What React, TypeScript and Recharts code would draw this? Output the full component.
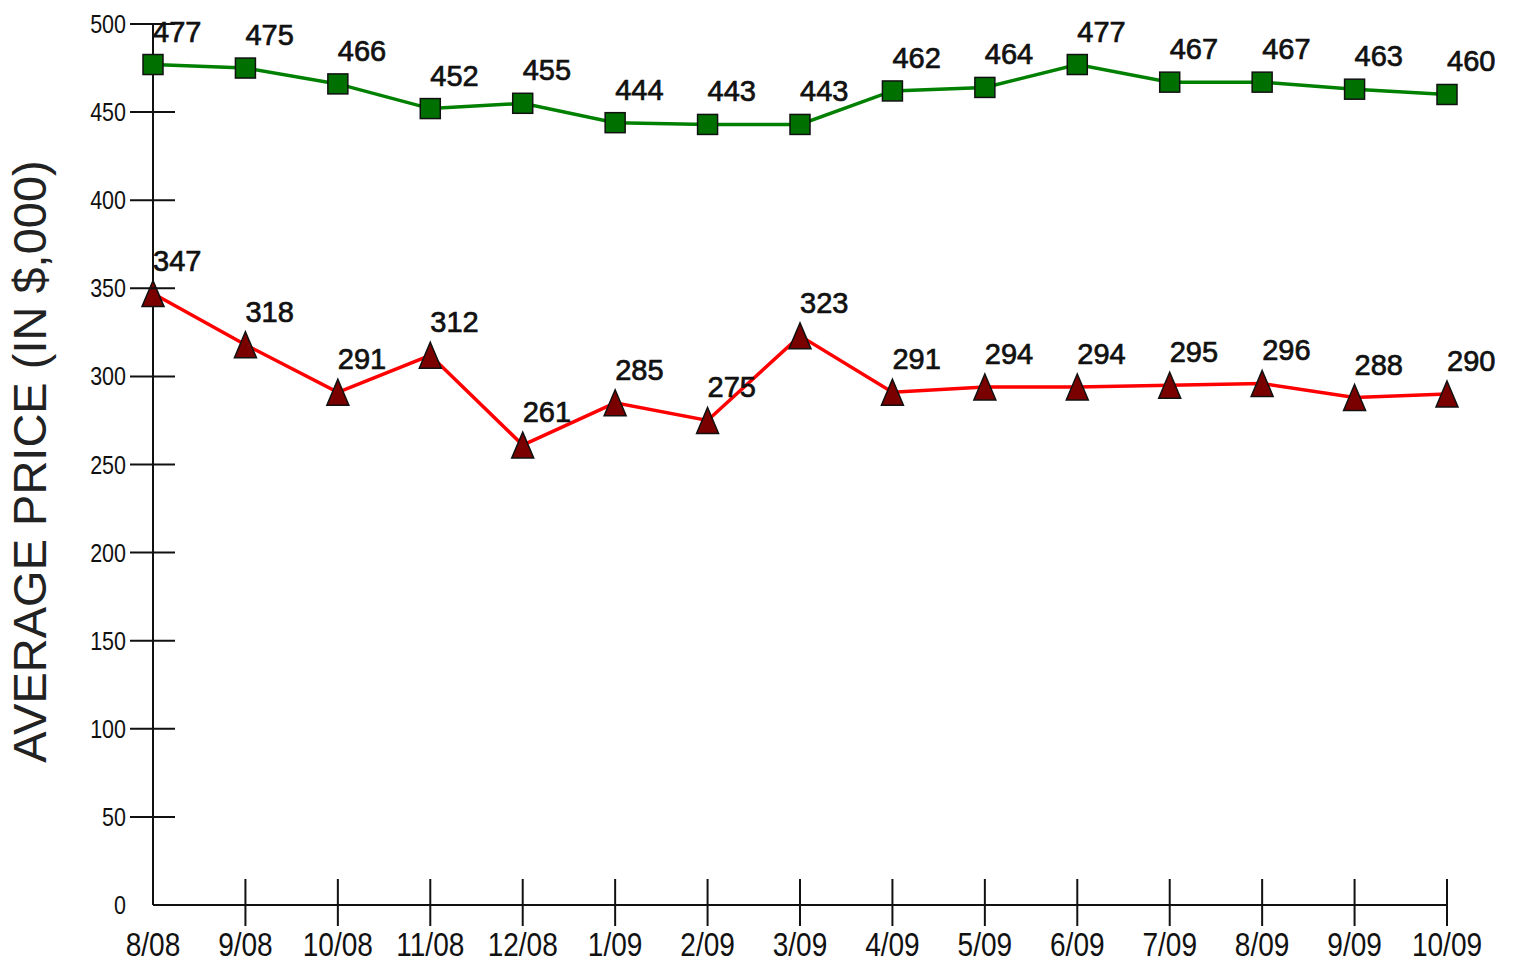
import { LineChart, Line, XAxis, YAxis, LabelList } from "recharts";

const MONTHS = ["8/08", "9/08", "10/08", "11/08", "12/08", "1/09", "2/09", "3/09", "4/09", "5/09", "6/09", "7/09", "8/09", "9/09", "10/09"];
const UPPER = [477, 475, 466, 452, 455, 444, 443, 443, 462, 464, 477, 467, 467, 463, 460];
const LOWER = [347, 318, 291, 312, 261, 285, 275, 323, 291, 294, 294, 295, 296, 288, 290];
const Y_TICKS = [0, 50, 100, 150, 200, 250, 300, 350, 400, 450, 500];

const data = MONTHS.map((m, i) => ({ month: m, upper: UPPER[i], lower: LOWER[i] }));

// no narrow face installed, so squeeze the regular one
const SANS = "'Liberation Sans', Arial, sans-serif";

function YTick(props: any) {
  const { x, y, payload } = props;
  return (
    <g>
      {payload.value !== 0 && <line x1={x - 23} x2={x + 22} y1={y} y2={y} stroke="#111" strokeWidth={2} />}
      <text
        transform={`translate(${x - 27} ${y + 9}) scale(0.86 1)`}
        textAnchor="end"
        fontFamily={SANS}
        fontSize={25}
        fill="#111"
      >
        {payload.value}
      </text>
    </g>
  );
}

function XTick(props: any) {
  const { x, y, payload, index } = props;
  return (
    <g>
      {index > 0 && <line x1={x} x2={x} y1={y - 26} y2={y + 21} stroke="#111" strokeWidth={2} />}
      <text
        transform={`translate(${x} ${y + 51}) scale(0.85 1)`}
        textAnchor="middle"
        fontFamily={SANS}
        fontSize={33}
        fill="#111"
      >
        {payload.value}
      </text>
    </g>
  );
}

function Square(props: any) {
  const { cx, cy, index } = props;
  return <rect key={`sq-${index}`} x={cx - 10} y={cy - 10} width={20} height={20} fill="#007000" stroke="#111" strokeWidth={1.5} />;
}

function Triangle(props: any) {
  const { cx, cy, index } = props;
  return (
    <path
      key={`tr-${index}`}
      d={`M${cx},${cy - 13} L${cx + 11},${cy + 13} L${cx - 11},${cy + 13} Z`}
      fill="#7a0000"
      stroke="#111"
      strokeWidth={1.5}
    />
  );
}

function ValueLabel(props: any) {
  const { x, y, value } = props;
  return (
    <text x={x} y={y - 23} fontFamily={SANS} fontSize={29} fill="#111" stroke="#111" strokeWidth={0.7}>
      {value}
    </text>
  );
}

export default function App() {
  return (
    <div style={{ position: "absolute", left: 0, top: 0, background: "#fff" }}>
      <LineChart width={1513} height={965} data={data} margin={{ top: 24, right: 66, left: 0, bottom: 0 }}>
        <XAxis
          dataKey="month"
          interval={0}
          height={60}
          tickSize={0}
          tickMargin={0}
          tickLine={false}
          axisLine={{ stroke: "#111", strokeWidth: 2 }}
          tick={<XTick />}
        />
        <YAxis
          type="number"
          domain={[0, 500]}
          ticks={Y_TICKS}
          interval={0}
          width={153}
          tickSize={0}
          tickMargin={0}
          tickLine={false}
          axisLine={{ stroke: "#111", strokeWidth: 2 }}
          tick={<YTick />}
          label={(p: any) => {
            const vb = p.viewBox;
            const cx = vb.x + 46;
            const cy = vb.y + vb.height / 2 - 3;
            return (
              <text x={cx} y={cy} transform={`rotate(-90 ${cx} ${cy})`} textAnchor="middle" fontFamily={SANS} fontSize={47} fill="#222">
                AVERAGE PRICE (IN $,000)
              </text>
            );
          }}
        />
        <Line dataKey="upper" stroke="#008000" strokeWidth={3.5} dot={<Square />} activeDot={false} isAnimationActive={false}>
          <LabelList dataKey="upper" content={<ValueLabel />} />
        </Line>
        <Line dataKey="lower" stroke="#ff0000" strokeWidth={3.5} dot={<Triangle />} activeDot={false} isAnimationActive={false}>
          <LabelList dataKey="lower" content={<ValueLabel />} />
        </Line>
      </LineChart>
    </div>
  );
}
